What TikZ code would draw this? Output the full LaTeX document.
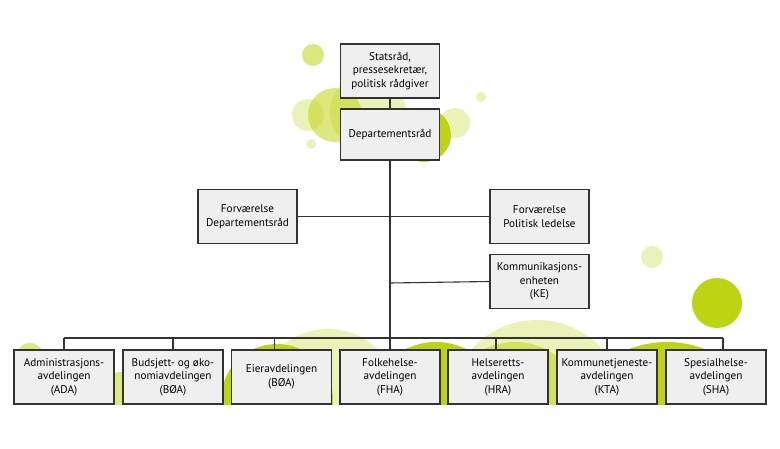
\documentclass[tikz,border=0pt]{standalone}
\usepackage{fontspec}
\setmainfont{PT Sans}
\definecolor{lime}{HTML}{BDD415}
\definecolor{boxfill}{HTML}{EFEFEF}
\definecolor{linec}{HTML}{333333}
\begin{document}
\begin{tikzpicture}[x=1pt,y=-1pt,
  box/.style={draw=linec,line width=1.1pt,fill=boxfill,align=center,inner sep=0pt,
    minimum width=99pt,minimum height=54pt,font=\fontsize{11.2}{13.6}\selectfont},
  conn/.style={draw=linec,line width=1.1pt},
  lightc/.style={fill=lime,fill opacity=0.3},
  midc/.style={fill=lime,fill opacity=0.55},
  darkc/.style={fill=lime}]
\useasboundingbox (0,0) rectangle (780,448);
% --- top cluster of circles
\fill[lightc] (368,112) circle (38);
\fill[midc] (313,55) circle (11);
\fill[midc] (335,115) circle (27);
\fill[lightc] (308,115) circle (16);
\fill[lightc] (311,144) circle (5);
\fill[darkc] (424,135) circle (27);
\fill[lightc] (455,123) circle (15);
\fill[lightc] (481,97) circle (5);
% --- right circles
\fill[lightc] (652,257) circle (11);
\fill[darkc] (717,303) circle (25);
% --- bottom circles (clipped at box bottoms)
\begin{scope}
\clip (0,0) rectangle (780,404);
\fill[midc] (30,357) circle (14);
\fill[midc] (122,408) circle (36);
\fill[lightc] (328,400) circle (71);
\fill[darkc] (277,400) circle (56);
\fill[darkc] (436,410) circle (68);
\fill[lightc] (537,408) circle (88);
\fill[midc] (515,410) circle (68);
\fill[darkc] (667,446) circle (104);
\end{scope}
% --- boxes
\node[box,minimum height=54pt] (stats) at (390,71) {Statsråd,\\pressesekretær,\\politisk rådgiver};
\node[box,minimum height=51pt] (dep) at (390,134.5) {Departementsråd};
\node[box] (fdep) at (247.5,216.5) {Forværelse\\Departementsråd};
\node[box] (fpol) at (539.5,216.5) {Forværelse\\Politisk ledelse};
\node[box] (ke) at (539.5,281.5) {Kommunikasjons-\\enheten\\(KE)};
\node[box,minimum width=100pt] (ada) at (64,377) {Administrasjons-\\avdelingen\\(ADA)};
\node[box,minimum width=100pt] (boa) at (173,377) {Budsjett- og øko-\\nomiavdelingen\\(BØA)};
\node[box,minimum width=100pt] (eier) at (281.5,377) {Eieravdelingen\\(BØA)};
\node[box,minimum width=100pt] (fha) at (390,377) {Folkehelse-\\avdelingen\\(FHA)};
\node[box,minimum width=100pt] (hra) at (498,377) {Helseretts-\\avdelingen\\(HRA)};
\node[box,minimum width=100pt] (kta) at (607,377) {Kommunetjeneste-\\avdelingen\\(KTA)};
\node[box,minimum width=100pt] (sha) at (716,377) {Spesialhelse-\\avdelingen\\(SHA)};
% --- connector anchor points
\coordinate (bus) at (390,338);
\coordinate (kej) at (390,283);
\coordinate (adad) at (ada.north);
\coordinate (boad) at (boa.north);
\coordinate (eierd) at ([xshift=-7pt]eier.north);
\coordinate (fhad) at (fha.north);
\coordinate (hrad) at ([xshift=-2pt]hra.north);
\coordinate (ktad) at (kta.north);
\coordinate (shad) at ([xshift=7pt]sha.north);
% --- connectors
\draw[conn] (stats.south) -- (dep.north);
\draw[conn] (dep.south) -- (bus);
\draw[conn] (fdep.east) -- (fdep.east -| fpol.west);
\draw[conn] (kej) -- (ke.west);
\draw[conn] (bus -| adad) -- (bus -| shad);
\draw[conn] (adad) -- (adad |- bus);
\draw[conn] (boad) -- (boad |- bus);
\draw[conn] (eierd) -- (eierd |- bus);
\draw[conn] (fhad) -- (fhad |- bus);
\draw[conn] (hrad) -- (hrad |- bus);
\draw[conn] (ktad) -- (ktad |- bus);
\draw[conn] (shad) -- (shad |- bus);
\end{tikzpicture}
\end{document}
